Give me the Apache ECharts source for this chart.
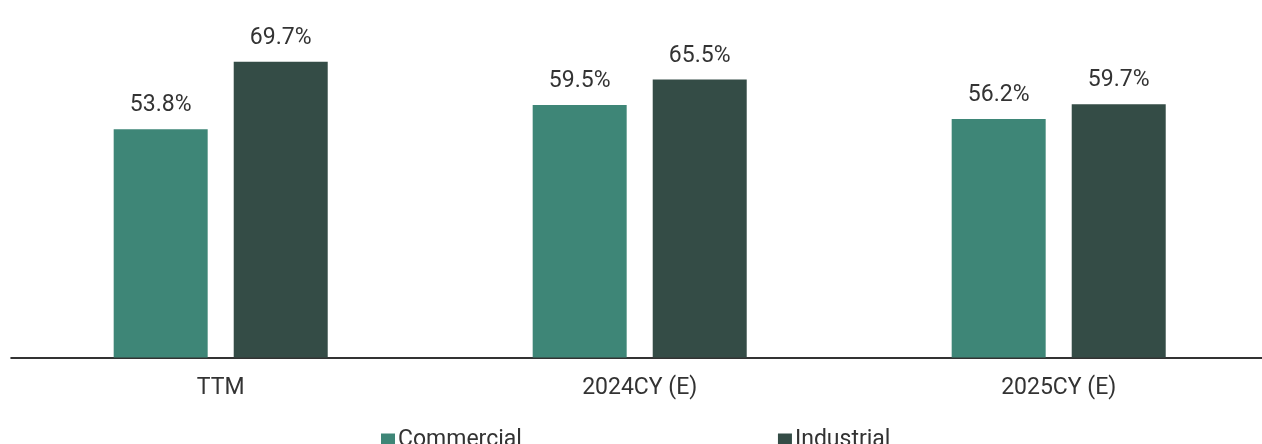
<!DOCTYPE html>
<html>
<head>
<meta charset="utf-8">
<script src="https://cdn.jsdelivr.net/npm/echarts@6/dist/echarts.min.js"></script>
<style>html,body{margin:0;padding:0;background:#fff;}#c{width:1262px;height:444px;}</style>
</head>
<body>
<div id="c"></div>
<script>
const categories = ['TTM', '2024CY (E)', '2025CY (E)'];
const commercial = [53.8, 59.5, 56.2];
const industrial = [69.7, 65.5, 59.7];
const seriesNames = ['Commercial', 'Industrial'];

const chart = echarts.init(document.getElementById('c'));
const labelStyle = {
  show: true, position: 'top', distance: 12,
  formatter: p => p.value.toFixed(1) + '%',
  fontFamily: 'Roboto', fontSize: 23, color: '#333'
};
chart.setOption({
  animation: false,
  textStyle: { fontFamily: 'Roboto' },
  grid: { left: 11.2, width: 1257, top: 18, bottom: 86.5, containLabel: false, outerBoundsMode: 'none' },
  legend: {
    top: 429, left: 381, padding: 0, itemGap: 256, itemWidth: 14, itemHeight: 14,
    icon: 'rect',
    textStyle: { fontFamily: 'Roboto', fontSize: 23, color: '#333', padding: [0, 0, 0, -2] },
    data: seriesNames
  },
  xAxis: {
    type: 'category', data: categories,
    axisLine: { lineStyle: { color: '#333', width: 2 } },
    axisTick: { show: false },
    axisLabel: { fontFamily: 'Roboto', fontSize: 23, color: '#333', margin: 19 }
  },
  yAxis: { type: 'value', min: 0, max: 80, show: false, splitLine: { show: false } },
  series: [
    { name: seriesNames[0], type: 'bar', data: commercial, barWidth: 94, barGap: '27.7%',
      itemStyle: { color: '#3E8677' }, label: labelStyle },
    { name: seriesNames[1], type: 'bar', data: industrial, barWidth: 94, barGap: '27.7%',
      itemStyle: { color: '#344C46' }, label: labelStyle }
  ]
});
</script>
</body>
</html>
